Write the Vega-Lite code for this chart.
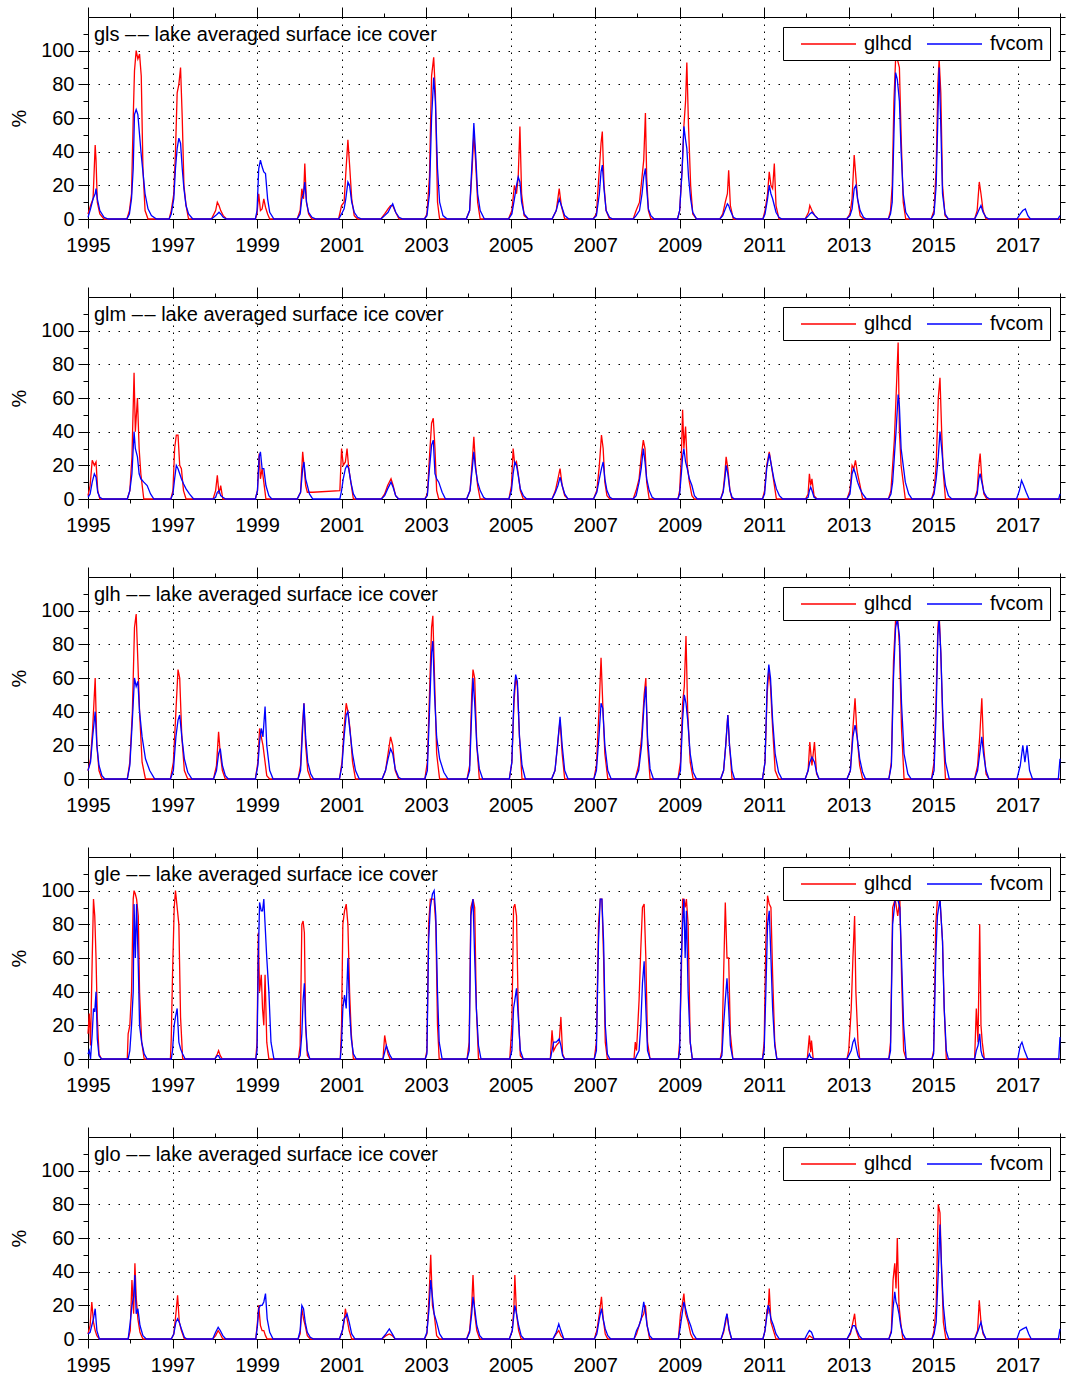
{
"$schema":"https://vega.github.io/schema/vega-lite/v6.json",
"background":"white",
"padding":{"left":9,"top":6,"right":4,"bottom":0},
"autosize":{"type":"pad"},
"bounds":"flush",
"spacing":78,
"config":{
 "font":"Liberation Sans",
 "view":{"stroke":null},
 "axis":{"domainColor":"black","domainWidth":1,"tickColor":"black","tickWidth":1,"labelColor":"black","labelFont":"Liberation Sans","labelFontSize":20,"titleColor":"black","titleFont":"Liberation Sans","titleFontSize":20,"titleFontWeight":"normal","gridColor":"black","gridWidth":1},
 "axisX":{"gridDash":[1.5,5.5]},
 "axisY":{"gridDash":[1.5,8.5]},
 "legend":{"orient":"top-right","direction":"horizontal","offset":10,"padding":6,"strokeColor":"black","fillColor":"white","symbolType":"M0.1,0H5.6","symbolSize":400,"symbolStrokeWidth":1.3,"symbolFillColor":"transparent","labelFontSize":20,"labelFont":"Liberation Sans","labelColor":"black","labelOffset":53,"columnPadding":3,"labelLimit":300}
},
"resolve":{"scale":{"color":"independent","x":"independent","y":"independent"},"legend":{"color":"independent"}},
"datasets":{
"gls":[
{"t":1995.00,"r":3,"b":1},{"t":1995.06,"r":8,"b":6},{"t":1995.12,"r":12,"b":12},{"t":1995.17,"r":44,"b":15},{"t":1995.19,"r":35,"b":18},{"t":1995.22,"r":10,"b":12},{"t":1995.28,"r":3,"b":5},{"t":1995.38,"r":0,"b":1},{"t":1995.48,"r":0,"b":0},
{"t":1995.92,"r":0,"b":0},{"t":1995.98,"r":5,"b":3},{"t":1996.03,"r":15,"b":12},{"t":1996.07,"r":60,"b":30},{"t":1996.10,"r":88,"b":62},{"t":1996.14,"r":100,"b":65},{"t":1996.18,"r":95,"b":62},{"t":1996.22,"r":98,"b":50},{"t":1996.26,"r":85,"b":38},{"t":1996.30,"r":30,"b":28},{"t":1996.35,"r":5,"b":15},{"t":1996.42,"r":0,"b":6},{"t":1996.50,"r":0,"b":2},{"t":1996.62,"r":0,"b":0},
{"t":1996.92,"r":0,"b":0},{"t":1996.97,"r":5,"b":3},{"t":1997.03,"r":15,"b":12},{"t":1997.07,"r":40,"b":30},{"t":1997.11,"r":75,"b":42},{"t":1997.15,"r":80,"b":48},{"t":1997.19,"r":90,"b":45},{"t":1997.23,"r":60,"b":30},{"t":1997.27,"r":20,"b":18},{"t":1997.32,"r":8,"b":8},{"t":1997.38,"r":0,"b":3},{"t":1997.48,"r":0,"b":0},
{"t":1997.92,"r":0,"b":0},{"t":1998.02,"r":5,"b":2},{"t":1998.06,"r":10,"b":3},{"t":1998.10,"r":8,"b":4},{"t":1998.14,"r":5,"b":3},{"t":1998.20,"r":2,"b":1},{"t":1998.28,"r":0,"b":0},
{"t":1998.96,"r":0,"b":0},{"t":1999.00,"r":3,"b":5},{"t":1999.04,"r":15,"b":30},{"t":1999.08,"r":5,"b":35},{"t":1999.12,"r":6,"b":31},{"t":1999.16,"r":12,"b":28},{"t":1999.20,"r":7,"b":27},{"t":1999.25,"r":3,"b":12},{"t":1999.30,"r":0,"b":4},{"t":1999.40,"r":0,"b":0},
{"t":1999.95,"r":0,"b":0},{"t":2000.02,"r":5,"b":3},{"t":2000.06,"r":18,"b":12},{"t":2000.10,"r":12,"b":15},{"t":2000.13,"r":33,"b":22},{"t":2000.17,"r":10,"b":10},{"t":2000.22,"r":3,"b":4},{"t":2000.30,"r":0,"b":1},{"t":2000.40,"r":0,"b":0},
{"t":2000.93,"r":0,"b":0},{"t":2001.00,"r":8,"b":3},{"t":2001.06,"r":10,"b":6},{"t":2001.10,"r":27,"b":12},{"t":2001.15,"r":47,"b":22},{"t":2001.19,"r":32,"b":20},{"t":2001.24,"r":12,"b":10},{"t":2001.30,"r":2,"b":4},{"t":2001.38,"r":0,"b":1},{"t":2001.48,"r":0,"b":0},
{"t":2001.93,"r":0,"b":0},{"t":2002.02,"r":3,"b":2},{"t":2002.10,"r":6,"b":4},{"t":2002.16,"r":8,"b":7},{"t":2002.21,"r":8,"b":9},{"t":2002.28,"r":4,"b":4},{"t":2002.36,"r":0,"b":1},{"t":2002.45,"r":0,"b":0},
{"t":2002.96,"r":0,"b":0},{"t":2003.02,"r":3,"b":2},{"t":2003.08,"r":25,"b":15},{"t":2003.13,"r":85,"b":60},{"t":2003.18,"r":96,"b":84},{"t":2003.22,"r":75,"b":70},{"t":2003.27,"r":10,"b":30},{"t":2003.32,"r":0,"b":10},{"t":2003.40,"r":0,"b":2},{"t":2003.50,"r":0,"b":0},
{"t":2003.95,"r":0,"b":0},{"t":2004.03,"r":5,"b":5},{"t":2004.09,"r":30,"b":35},{"t":2004.13,"r":50,"b":57},{"t":2004.17,"r":35,"b":40},{"t":2004.22,"r":10,"b":15},{"t":2004.28,"r":0,"b":5},{"t":2004.38,"r":0,"b":0},
{"t":2004.95,"r":0,"b":0},{"t":2005.03,"r":5,"b":3},{"t":2005.09,"r":20,"b":12},{"t":2005.14,"r":15,"b":20},{"t":2005.18,"r":25,"b":25},{"t":2005.22,"r":55,"b":22},{"t":2005.26,"r":15,"b":10},{"t":2005.32,"r":2,"b":3},{"t":2005.42,"r":0,"b":0},
{"t":2005.98,"r":0,"b":0},{"t":2006.08,"r":5,"b":5},{"t":2006.15,"r":18,"b":12},{"t":2006.20,"r":8,"b":8},{"t":2006.28,"r":0,"b":2},{"t":2006.38,"r":0,"b":0},
{"t":2006.95,"r":0,"b":0},{"t":2007.03,"r":3,"b":2},{"t":2007.10,"r":30,"b":15},{"t":2007.14,"r":45,"b":28},{"t":2007.17,"r":52,"b":32},{"t":2007.21,"r":20,"b":18},{"t":2007.26,"r":5,"b":5},{"t":2007.34,"r":0,"b":1},{"t":2007.42,"r":0,"b":0},
{"t":2007.90,"r":0,"b":0},{"t":2007.97,"r":5,"b":2},{"t":2008.05,"r":10,"b":5},{"t":2008.11,"r":25,"b":15},{"t":2008.15,"r":35,"b":25},{"t":2008.19,"r":63,"b":30},{"t":2008.22,"r":25,"b":18},{"t":2008.26,"r":5,"b":6},{"t":2008.32,"r":0,"b":2},{"t":2008.40,"r":0,"b":0},
{"t":2008.95,"r":0,"b":0},{"t":2009.00,"r":5,"b":5},{"t":2009.06,"r":30,"b":30},{"t":2009.10,"r":55,"b":55},{"t":2009.14,"r":70,"b":47},{"t":2009.17,"r":93,"b":42},{"t":2009.21,"r":55,"b":25},{"t":2009.26,"r":20,"b":12},{"t":2009.31,"r":3,"b":4},{"t":2009.40,"r":0,"b":0},
{"t":2009.95,"r":0,"b":0},{"t":2010.02,"r":3,"b":2},{"t":2010.08,"r":10,"b":6},{"t":2010.13,"r":15,"b":9},{"t":2010.16,"r":29,"b":8},{"t":2010.20,"r":8,"b":5},{"t":2010.27,"r":0,"b":1},{"t":2010.35,"r":0,"b":0},
{"t":2010.97,"r":0,"b":0},{"t":2011.02,"r":5,"b":3},{"t":2011.08,"r":15,"b":12},{"t":2011.12,"r":28,"b":20},{"t":2011.16,"r":20,"b":15},{"t":2011.20,"r":18,"b":12},{"t":2011.24,"r":33,"b":8},{"t":2011.28,"r":8,"b":4},{"t":2011.35,"r":0,"b":1},{"t":2011.42,"r":0,"b":0},
{"t":2011.97,"r":0,"b":0},{"t":2012.05,"r":4,"b":2},{"t":2012.08,"r":8,"b":3},{"t":2012.13,"r":5,"b":4},{"t":2012.20,"r":2,"b":2},{"t":2012.28,"r":0,"b":0},
{"t":2012.95,"r":0,"b":0},{"t":2013.03,"r":3,"b":2},{"t":2013.08,"r":12,"b":6},{"t":2013.13,"r":38,"b":18},{"t":2013.17,"r":25,"b":20},{"t":2013.21,"r":12,"b":12},{"t":2013.27,"r":2,"b":5},{"t":2013.35,"r":0,"b":1},{"t":2013.42,"r":0,"b":0},
{"t":2013.94,"r":0,"b":0},{"t":2013.99,"r":5,"b":3},{"t":2014.03,"r":20,"b":10},{"t":2014.07,"r":70,"b":50},{"t":2014.11,"r":95,"b":87},{"t":2014.15,"r":95,"b":83},{"t":2014.20,"r":90,"b":70},{"t":2014.24,"r":50,"b":40},{"t":2014.29,"r":10,"b":15},{"t":2014.35,"r":0,"b":4},{"t":2014.45,"r":0,"b":0},
{"t":2014.95,"r":0,"b":0},{"t":2015.02,"r":5,"b":3},{"t":2015.07,"r":30,"b":20},{"t":2015.11,"r":80,"b":60},{"t":2015.14,"r":95,"b":90},{"t":2015.18,"r":75,"b":55},{"t":2015.22,"r":20,"b":15},{"t":2015.28,"r":2,"b":3},{"t":2015.36,"r":0,"b":0},
{"t":2015.98,"r":0,"b":0},{"t":2016.04,"r":5,"b":3},{"t":2016.09,"r":22,"b":6},{"t":2016.13,"r":15,"b":8},{"t":2016.18,"r":5,"b":4},{"t":2016.25,"r":0,"b":1},{"t":2016.32,"r":0,"b":0},
{"t":2016.98,"r":0,"b":0},{"t":2017.06,"r":0,"b":3},{"t":2017.12,"r":0,"b":5},{"t":2017.18,"r":0,"b":6},{"t":2017.24,"r":0,"b":2},{"t":2017.30,"r":0,"b":0},
{"t":2017.95,"r":0,"b":0},{"t":2018.00,"r":0,"b":2}
],
"glm":[
{"t":1995.00,"r":2,"b":1},{"t":1995.05,"r":8,"b":3},{"t":1995.10,"r":23,"b":10},{"t":1995.15,"r":20,"b":15},{"t":1995.19,"r":22,"b":13},{"t":1995.23,"r":5,"b":4},{"t":1995.28,"r":0,"b":1},{"t":1995.35,"r":0,"b":0},
{"t":1995.93,"r":0,"b":0},{"t":1995.99,"r":5,"b":5},{"t":1996.04,"r":25,"b":15},{"t":1996.09,"r":75,"b":40},{"t":1996.12,"r":40,"b":30},{"t":1996.17,"r":60,"b":25},{"t":1996.21,"r":30,"b":15},{"t":1996.25,"r":15,"b":12},{"t":1996.32,"r":0,"b":10},{"t":1996.40,"r":0,"b":8},{"t":1996.48,"r":0,"b":3},{"t":1996.56,"r":0,"b":0},
{"t":1996.96,"r":0,"b":0},{"t":1997.01,"r":5,"b":3},{"t":1997.05,"r":30,"b":12},{"t":1997.09,"r":38,"b":20},{"t":1997.13,"r":38,"b":18},{"t":1997.17,"r":20,"b":15},{"t":1997.21,"r":18,"b":12},{"t":1997.26,"r":5,"b":9},{"t":1997.32,"r":0,"b":6},{"t":1997.40,"r":0,"b":3},{"t":1997.50,"r":0,"b":0},
{"t":1997.96,"r":0,"b":0},{"t":1998.02,"r":5,"b":1},{"t":1998.06,"r":14,"b":4},{"t":1998.10,"r":3,"b":5},{"t":1998.14,"r":8,"b":2},{"t":1998.19,"r":0,"b":1},{"t":1998.26,"r":0,"b":0},
{"t":1998.96,"r":0,"b":0},{"t":1999.01,"r":5,"b":5},{"t":1999.05,"r":27,"b":25},{"t":1999.08,"r":12,"b":28},{"t":1999.12,"r":18,"b":18},{"t":1999.16,"r":10,"b":18},{"t":1999.21,"r":0,"b":8},{"t":1999.28,"r":0,"b":2},{"t":1999.35,"r":0,"b":0},
{"t":1999.95,"r":0,"b":0},{"t":2000.03,"r":4,"b":4},{"t":2000.08,"r":28,"b":18},{"t":2000.11,"r":20,"b":22},{"t":2000.15,"r":8,"b":12},{"t":2000.19,"r":4,"b":8},{"t":2000.24,"r":4,"b":3},{"t":2000.32,"r":4,"b":0},{"t":2000.96,"r":5,"b":0},
{"t":2001.00,"r":30,"b":5},{"t":2001.04,"r":20,"b":12},{"t":2001.09,"r":22,"b":18},{"t":2001.13,"r":30,"b":20},{"t":2001.17,"r":18,"b":18},{"t":2001.22,"r":10,"b":10},{"t":2001.28,"r":0,"b":3},{"t":2001.35,"r":0,"b":0},
{"t":2001.94,"r":0,"b":0},{"t":2002.02,"r":3,"b":2},{"t":2002.09,"r":8,"b":6},{"t":2002.17,"r":12,"b":10},{"t":2002.22,"r":8,"b":7},{"t":2002.28,"r":2,"b":2},{"t":2002.35,"r":0,"b":0},
{"t":2002.97,"r":0,"b":0},{"t":2003.03,"r":3,"b":2},{"t":2003.08,"r":25,"b":18},{"t":2003.13,"r":45,"b":32},{"t":2003.17,"r":48,"b":35},{"t":2003.21,"r":30,"b":15},{"t":2003.25,"r":5,"b":12},{"t":2003.30,"r":0,"b":10},{"t":2003.38,"r":0,"b":4},{"t":2003.46,"r":0,"b":0},
{"t":2003.96,"r":0,"b":0},{"t":2004.04,"r":5,"b":5},{"t":2004.10,"r":25,"b":20},{"t":2004.13,"r":37,"b":28},{"t":2004.17,"r":20,"b":18},{"t":2004.22,"r":8,"b":10},{"t":2004.28,"r":0,"b":5},{"t":2004.36,"r":0,"b":1},{"t":2004.42,"r":0,"b":0},
{"t":2004.96,"r":0,"b":0},{"t":2005.02,"r":8,"b":5},{"t":2005.06,"r":30,"b":15},{"t":2005.10,"r":20,"b":22},{"t":2005.14,"r":22,"b":20},{"t":2005.18,"r":15,"b":14},{"t":2005.23,"r":5,"b":6},{"t":2005.30,"r":0,"b":2},{"t":2005.38,"r":0,"b":0},
{"t":2005.98,"r":0,"b":0},{"t":2006.06,"r":5,"b":4},{"t":2006.12,"r":12,"b":8},{"t":2006.17,"r":18,"b":13},{"t":2006.22,"r":8,"b":8},{"t":2006.28,"r":2,"b":3},{"t":2006.36,"r":0,"b":0},
{"t":2006.96,"r":0,"b":0},{"t":2007.04,"r":5,"b":4},{"t":2007.10,"r":20,"b":12},{"t":2007.15,"r":38,"b":18},{"t":2007.19,"r":30,"b":22},{"t":2007.23,"r":10,"b":12},{"t":2007.28,"r":2,"b":5},{"t":2007.35,"r":0,"b":1},{"t":2007.42,"r":0,"b":0},
{"t":2007.90,"r":0,"b":0},{"t":2007.97,"r":5,"b":2},{"t":2008.04,"r":12,"b":10},{"t":2008.09,"r":25,"b":18},{"t":2008.14,"r":35,"b":30},{"t":2008.18,"r":30,"b":22},{"t":2008.22,"r":10,"b":12},{"t":2008.28,"r":0,"b":5},{"t":2008.35,"r":0,"b":1},{"t":2008.42,"r":0,"b":0},
{"t":2008.96,"r":0,"b":0},{"t":2009.00,"r":5,"b":3},{"t":2009.04,"r":25,"b":15},{"t":2009.07,"r":53,"b":25},{"t":2009.10,"r":30,"b":30},{"t":2009.14,"r":43,"b":22},{"t":2009.18,"r":20,"b":18},{"t":2009.23,"r":10,"b":12},{"t":2009.29,"r":2,"b":8},{"t":2009.35,"r":0,"b":2},{"t":2009.42,"r":0,"b":0},
{"t":2009.97,"r":0,"b":0},{"t":2010.03,"r":5,"b":4},{"t":2010.07,"r":15,"b":12},{"t":2010.10,"r":25,"b":20},{"t":2010.14,"r":18,"b":15},{"t":2010.19,"r":5,"b":5},{"t":2010.24,"r":0,"b":1},{"t":2010.30,"r":0,"b":0},
{"t":2010.96,"r":0,"b":0},{"t":2011.01,"r":5,"b":3},{"t":2011.06,"r":20,"b":18},{"t":2011.12,"r":28,"b":27},{"t":2011.17,"r":20,"b":20},{"t":2011.23,"r":10,"b":12},{"t":2011.29,"r":0,"b":6},{"t":2011.36,"r":0,"b":2},{"t":2011.44,"r":0,"b":0},
{"t":2011.98,"r":0,"b":0},{"t":2012.04,"r":3,"b":1},{"t":2012.07,"r":15,"b":5},{"t":2012.10,"r":8,"b":7},{"t":2012.13,"r":12,"b":5},{"t":2012.18,"r":2,"b":1},{"t":2012.25,"r":0,"b":0},
{"t":2012.96,"r":0,"b":0},{"t":2013.03,"r":5,"b":3},{"t":2013.08,"r":20,"b":15},{"t":2013.12,"r":18,"b":18},{"t":2013.16,"r":23,"b":15},{"t":2013.21,"r":15,"b":10},{"t":2013.27,"r":8,"b":6},{"t":2013.33,"r":0,"b":3},{"t":2013.42,"r":0,"b":0},
{"t":2013.94,"r":0,"b":0},{"t":2014.00,"r":5,"b":3},{"t":2014.04,"r":20,"b":10},{"t":2014.08,"r":35,"b":25},{"t":2014.12,"r":60,"b":40},{"t":2014.17,"r":93,"b":62},{"t":2014.20,"r":40,"b":55},{"t":2014.24,"r":20,"b":30},{"t":2014.29,"r":10,"b":20},{"t":2014.34,"r":0,"b":10},{"t":2014.42,"r":0,"b":3},{"t":2014.50,"r":0,"b":0},
{"t":2014.96,"r":0,"b":0},{"t":2015.02,"r":5,"b":3},{"t":2015.07,"r":20,"b":12},{"t":2015.12,"r":60,"b":25},{"t":2015.16,"r":72,"b":40},{"t":2015.20,"r":40,"b":30},{"t":2015.24,"r":15,"b":18},{"t":2015.29,"r":0,"b":8},{"t":2015.36,"r":0,"b":2},{"t":2015.44,"r":0,"b":0},
{"t":2015.98,"r":0,"b":0},{"t":2016.04,"r":5,"b":3},{"t":2016.08,"r":20,"b":12},{"t":2016.11,"r":27,"b":15},{"t":2016.15,"r":12,"b":10},{"t":2016.20,"r":3,"b":4},{"t":2016.27,"r":0,"b":1},{"t":2016.34,"r":0,"b":0},
{"t":2016.97,"r":0,"b":0},{"t":2017.04,"r":0,"b":5},{"t":2017.09,"r":0,"b":11},{"t":2017.14,"r":0,"b":8},{"t":2017.20,"r":0,"b":4},{"t":2017.27,"r":0,"b":0},
{"t":2017.97,"r":0,"b":0},{"t":2018.00,"r":0,"b":3}
],
"glh":[
{"t":1995.00,"r":5,"b":5},{"t":1995.06,"r":12,"b":10},{"t":1995.11,"r":30,"b":25},{"t":1995.17,"r":60,"b":40},{"t":1995.21,"r":20,"b":20},{"t":1995.26,"r":5,"b":8},{"t":1995.33,"r":0,"b":2},{"t":1995.40,"r":0,"b":0},
{"t":1995.93,"r":0,"b":0},{"t":1995.99,"r":10,"b":8},{"t":1996.05,"r":40,"b":35},{"t":1996.10,"r":90,"b":60},{"t":1996.14,"r":98,"b":55},{"t":1996.18,"r":70,"b":58},{"t":1996.22,"r":40,"b":40},{"t":1996.28,"r":10,"b":25},{"t":1996.36,"r":0,"b":12},{"t":1996.46,"r":0,"b":5},{"t":1996.58,"r":0,"b":0},
{"t":1996.95,"r":0,"b":0},{"t":1997.02,"r":10,"b":5},{"t":1997.08,"r":40,"b":25},{"t":1997.13,"r":65,"b":35},{"t":1997.17,"r":60,"b":38},{"t":1997.22,"r":25,"b":25},{"t":1997.28,"r":5,"b":12},{"t":1997.36,"r":0,"b":4},{"t":1997.46,"r":0,"b":0},
{"t":1997.97,"r":0,"b":0},{"t":1998.04,"r":8,"b":5},{"t":1998.09,"r":28,"b":15},{"t":1998.13,"r":15,"b":18},{"t":1998.18,"r":5,"b":8},{"t":1998.25,"r":0,"b":2},{"t":1998.32,"r":0,"b":0},
{"t":1998.96,"r":0,"b":0},{"t":1999.02,"r":10,"b":8},{"t":1999.06,"r":30,"b":22},{"t":1999.10,"r":25,"b":30},{"t":1999.14,"r":20,"b":25},{"t":1999.19,"r":10,"b":43},{"t":1999.23,"r":2,"b":20},{"t":1999.30,"r":0,"b":5},{"t":1999.38,"r":0,"b":0},
{"t":1999.97,"r":0,"b":0},{"t":2000.03,"r":8,"b":5},{"t":2000.07,"r":30,"b":25},{"t":2000.11,"r":45,"b":45},{"t":2000.15,"r":20,"b":25},{"t":2000.20,"r":5,"b":10},{"t":2000.27,"r":0,"b":3},{"t":2000.34,"r":0,"b":0},
{"t":2000.95,"r":0,"b":0},{"t":2001.01,"r":10,"b":8},{"t":2001.06,"r":30,"b":25},{"t":2001.11,"r":45,"b":38},{"t":2001.15,"r":40,"b":40},{"t":2001.20,"r":30,"b":28},{"t":2001.26,"r":10,"b":15},{"t":2001.33,"r":0,"b":5},{"t":2001.42,"r":0,"b":0},
{"t":2001.96,"r":0,"b":0},{"t":2002.04,"r":5,"b":5},{"t":2002.10,"r":15,"b":12},{"t":2002.16,"r":25,"b":18},{"t":2002.21,"r":20,"b":15},{"t":2002.27,"r":5,"b":6},{"t":2002.35,"r":0,"b":1},{"t":2002.42,"r":0,"b":0},
{"t":2002.97,"r":0,"b":0},{"t":2003.03,"r":10,"b":5},{"t":2003.08,"r":50,"b":40},{"t":2003.13,"r":90,"b":75},{"t":2003.16,"r":97,"b":82},{"t":2003.20,"r":60,"b":50},{"t":2003.25,"r":15,"b":25},{"t":2003.32,"r":0,"b":12},{"t":2003.42,"r":0,"b":4},{"t":2003.52,"r":0,"b":0},
{"t":2003.97,"r":0,"b":0},{"t":2004.03,"r":8,"b":5},{"t":2004.08,"r":50,"b":40},{"t":2004.11,"r":65,"b":60},{"t":2004.15,"r":60,"b":45},{"t":2004.20,"r":20,"b":20},{"t":2004.26,"r":0,"b":6},{"t":2004.34,"r":0,"b":0},
{"t":2004.97,"r":0,"b":0},{"t":2005.03,"r":10,"b":10},{"t":2005.08,"r":45,"b":50},{"t":2005.12,"r":60,"b":62},{"t":2005.16,"r":55,"b":58},{"t":2005.21,"r":25,"b":25},{"t":2005.27,"r":0,"b":8},{"t":2005.35,"r":0,"b":0},
{"t":2005.97,"r":0,"b":0},{"t":2006.05,"r":5,"b":5},{"t":2006.11,"r":20,"b":20},{"t":2006.17,"r":35,"b":37},{"t":2006.22,"r":15,"b":20},{"t":2006.28,"r":0,"b":5},{"t":2006.36,"r":0,"b":0},
{"t":2006.97,"r":0,"b":0},{"t":2007.03,"r":8,"b":5},{"t":2007.09,"r":40,"b":25},{"t":2007.14,"r":72,"b":45},{"t":2007.18,"r":45,"b":42},{"t":2007.23,"r":15,"b":20},{"t":2007.30,"r":0,"b":5},{"t":2007.38,"r":0,"b":0},
{"t":2007.95,"r":0,"b":0},{"t":2008.03,"r":8,"b":5},{"t":2008.10,"r":25,"b":20},{"t":2008.16,"r":50,"b":45},{"t":2008.20,"r":60,"b":55},{"t":2008.24,"r":20,"b":25},{"t":2008.30,"r":0,"b":6},{"t":2008.38,"r":0,"b":0},
{"t":2008.96,"r":0,"b":0},{"t":2009.02,"r":10,"b":5},{"t":2009.07,"r":45,"b":35},{"t":2009.11,"r":55,"b":50},{"t":2009.15,"r":85,"b":45},{"t":2009.19,"r":40,"b":35},{"t":2009.25,"r":10,"b":15},{"t":2009.32,"r":0,"b":4},{"t":2009.40,"r":0,"b":0},
{"t":2009.97,"r":0,"b":0},{"t":2010.04,"r":5,"b":5},{"t":2010.09,"r":20,"b":20},{"t":2010.14,"r":38,"b":38},{"t":2010.18,"r":20,"b":20},{"t":2010.24,"r":0,"b":5},{"t":2010.30,"r":0,"b":0},
{"t":2010.96,"r":0,"b":0},{"t":2011.02,"r":10,"b":10},{"t":2011.07,"r":50,"b":55},{"t":2011.11,"r":65,"b":68},{"t":2011.15,"r":55,"b":60},{"t":2011.20,"r":30,"b":35},{"t":2011.26,"r":5,"b":15},{"t":2011.34,"r":0,"b":4},{"t":2011.42,"r":0,"b":0},
{"t":2011.97,"r":0,"b":0},{"t":2012.04,"r":5,"b":5},{"t":2012.08,"r":22,"b":10},{"t":2012.13,"r":8,"b":13},{"t":2012.19,"r":22,"b":10},{"t":2012.24,"r":3,"b":4},{"t":2012.30,"r":0,"b":0},
{"t":2012.96,"r":0,"b":0},{"t":2013.04,"r":5,"b":5},{"t":2013.10,"r":30,"b":25},{"t":2013.15,"r":48,"b":32},{"t":2013.20,"r":25,"b":25},{"t":2013.26,"r":8,"b":12},{"t":2013.33,"r":0,"b":4},{"t":2013.40,"r":0,"b":0},
{"t":2013.95,"r":0,"b":0},{"t":2014.01,"r":10,"b":8},{"t":2014.06,"r":70,"b":60},{"t":2014.11,"r":95,"b":90},{"t":2014.15,"r":98,"b":95},{"t":2014.20,"r":80,"b":85},{"t":2014.25,"r":30,"b":45},{"t":2014.31,"r":0,"b":15},{"t":2014.40,"r":0,"b":3},{"t":2014.48,"r":0,"b":0},
{"t":2014.96,"r":0,"b":0},{"t":2015.02,"r":10,"b":5},{"t":2015.07,"r":50,"b":40},{"t":2015.11,"r":90,"b":85},{"t":2015.14,"r":98,"b":95},{"t":2015.18,"r":75,"b":75},{"t":2015.23,"r":30,"b":35},{"t":2015.29,"r":0,"b":10},{"t":2015.38,"r":0,"b":0},
{"t":2015.98,"r":0,"b":0},{"t":2016.05,"r":8,"b":5},{"t":2016.10,"r":25,"b":15},{"t":2016.15,"r":48,"b":25},{"t":2016.19,"r":20,"b":15},{"t":2016.25,"r":3,"b":5},{"t":2016.32,"r":0,"b":0},
{"t":2016.98,"r":0,"b":0},{"t":2017.06,"r":0,"b":8},{"t":2017.12,"r":0,"b":20},{"t":2017.17,"r":0,"b":10},{"t":2017.22,"r":0,"b":20},{"t":2017.28,"r":0,"b":5},{"t":2017.35,"r":0,"b":0},
{"t":2017.96,"r":0,"b":0},{"t":2018.00,"r":0,"b":12}
],
"gle":[
{"t":1995.00,"r":15,"b":3},{"t":1995.03,"r":27,"b":5},{"t":1995.06,"r":8,"b":0},{"t":1995.10,"r":60,"b":15},{"t":1995.13,"r":95,"b":30},{"t":1995.16,"r":85,"b":28},{"t":1995.19,"r":60,"b":40},{"t":1995.22,"r":25,"b":12},{"t":1995.26,"r":3,"b":2},{"t":1995.32,"r":0,"b":0},
{"t":1995.93,"r":0,"b":0},{"t":1995.95,"r":15,"b":0},{"t":1995.99,"r":20,"b":5},{"t":1996.03,"r":40,"b":20},{"t":1996.07,"r":95,"b":40},{"t":1996.09,"r":100,"b":92},{"t":1996.12,"r":98,"b":60},{"t":1996.15,"r":95,"b":92},{"t":1996.19,"r":85,"b":55},{"t":1996.22,"r":40,"b":20},{"t":1996.27,"r":10,"b":10},{"t":1996.33,"r":0,"b":3},{"t":1996.40,"r":0,"b":0},
{"t":1996.95,"r":0,"b":0},{"t":1996.97,"r":12,"b":0},{"t":1997.00,"r":50,"b":5},{"t":1997.04,"r":90,"b":20},{"t":1997.07,"r":100,"b":25},{"t":1997.11,"r":90,"b":30},{"t":1997.15,"r":80,"b":10},{"t":1997.19,"r":25,"b":6},{"t":1997.24,"r":0,"b":3},{"t":1997.30,"r":0,"b":0},
{"t":1998.00,"r":0,"b":0},{"t":1998.06,"r":3,"b":2},{"t":1998.09,"r":5,"b":2},{"t":1998.13,"r":2,"b":0},{"t":1998.18,"r":0,"b":0},
{"t":1998.97,"r":0,"b":0},{"t":1999.00,"r":10,"b":5},{"t":1999.03,"r":75,"b":60},{"t":1999.06,"r":40,"b":93},{"t":1999.10,"r":50,"b":88},{"t":1999.13,"r":30,"b":88},{"t":1999.16,"r":20,"b":95},{"t":1999.19,"r":50,"b":80},{"t":1999.23,"r":10,"b":60},{"t":1999.28,"r":0,"b":40},{"t":1999.33,"r":0,"b":10},{"t":1999.40,"r":0,"b":0},
{"t":1999.98,"r":0,"b":0},{"t":2000.02,"r":8,"b":2},{"t":2000.06,"r":80,"b":15},{"t":2000.09,"r":82,"b":35},{"t":2000.12,"r":75,"b":45},{"t":2000.15,"r":20,"b":20},{"t":2000.19,"r":2,"b":5},{"t":2000.25,"r":0,"b":0},
{"t":2000.97,"r":0,"b":0},{"t":2001.00,"r":20,"b":10},{"t":2001.03,"r":80,"b":30},{"t":2001.07,"r":88,"b":38},{"t":2001.11,"r":92,"b":30},{"t":2001.15,"r":80,"b":60},{"t":2001.19,"r":40,"b":28},{"t":2001.23,"r":15,"b":12},{"t":2001.28,"r":0,"b":3},{"t":2001.35,"r":0,"b":0},
{"t":2001.98,"r":0,"b":0},{"t":2002.02,"r":14,"b":4},{"t":2002.06,"r":8,"b":8},{"t":2002.10,"r":3,"b":5},{"t":2002.15,"r":0,"b":2},{"t":2002.20,"r":0,"b":0},
{"t":2002.98,"r":0,"b":0},{"t":2003.02,"r":5,"b":3},{"t":2003.06,"r":80,"b":70},{"t":2003.10,"r":95,"b":90},{"t":2003.15,"r":95,"b":98},{"t":2003.19,"r":95,"b":100},{"t":2003.23,"r":80,"b":85},{"t":2003.27,"r":20,"b":40},{"t":2003.31,"r":0,"b":10},{"t":2003.38,"r":0,"b":0},
{"t":2003.97,"r":0,"b":0},{"t":2004.02,"r":10,"b":5},{"t":2004.06,"r":90,"b":85},{"t":2004.11,"r":95,"b":95},{"t":2004.15,"r":90,"b":60},{"t":2004.19,"r":30,"b":30},{"t":2004.24,"r":0,"b":8},{"t":2004.30,"r":0,"b":0},
{"t":2004.98,"r":0,"b":0},{"t":2005.03,"r":20,"b":5},{"t":2005.07,"r":90,"b":30},{"t":2005.10,"r":92,"b":35},{"t":2005.14,"r":85,"b":42},{"t":2005.18,"r":30,"b":25},{"t":2005.23,"r":2,"b":5},{"t":2005.30,"r":0,"b":0},
{"t":2005.94,"r":0,"b":0},{"t":2005.98,"r":17,"b":5},{"t":2006.02,"r":5,"b":10},{"t":2006.08,"r":8,"b":10},{"t":2006.15,"r":10,"b":12},{"t":2006.19,"r":25,"b":8},{"t":2006.23,"r":3,"b":2},{"t":2006.28,"r":0,"b":0},
{"t":2006.98,"r":0,"b":0},{"t":2007.03,"r":10,"b":5},{"t":2007.08,"r":80,"b":70},{"t":2007.12,"r":95,"b":95},{"t":2007.16,"r":95,"b":95},{"t":2007.20,"r":60,"b":70},{"t":2007.24,"r":10,"b":20},{"t":2007.29,"r":0,"b":3},{"t":2007.35,"r":0,"b":0},
{"t":2007.92,"r":0,"b":0},{"t":2007.95,"r":10,"b":0},{"t":2007.98,"r":5,"b":2},{"t":2008.04,"r":35,"b":5},{"t":2008.08,"r":65,"b":20},{"t":2008.12,"r":90,"b":45},{"t":2008.16,"r":92,"b":58},{"t":2008.20,"r":60,"b":30},{"t":2008.24,"r":10,"b":5},{"t":2008.30,"r":0,"b":0},
{"t":2008.97,"r":0,"b":0},{"t":2009.00,"r":10,"b":5},{"t":2009.04,"r":50,"b":60},{"t":2009.07,"r":95,"b":80},{"t":2009.10,"r":95,"b":95},{"t":2009.13,"r":90,"b":60},{"t":2009.16,"r":95,"b":88},{"t":2009.20,"r":80,"b":40},{"t":2009.25,"r":10,"b":10},{"t":2009.30,"r":0,"b":0},
{"t":2009.96,"r":0,"b":0},{"t":2010.00,"r":5,"b":2},{"t":2010.04,"r":50,"b":20},{"t":2010.08,"r":93,"b":35},{"t":2010.12,"r":60,"b":48},{"t":2010.16,"r":60,"b":30},{"t":2010.20,"r":15,"b":8},{"t":2010.26,"r":0,"b":0},
{"t":2010.96,"r":0,"b":0},{"t":2011.00,"r":10,"b":5},{"t":2011.04,"r":70,"b":40},{"t":2011.08,"r":97,"b":80},{"t":2011.12,"r":92,"b":88},{"t":2011.16,"r":90,"b":60},{"t":2011.20,"r":50,"b":30},{"t":2011.25,"r":10,"b":8},{"t":2011.30,"r":0,"b":0},
{"t":2012.02,"r":0,"b":0},{"t":2012.07,"r":14,"b":3},{"t":2012.10,"r":4,"b":1},{"t":2012.12,"r":11,"b":1},{"t":2012.16,"r":0,"b":0},
{"t":2012.96,"r":0,"b":0},{"t":2013.00,"r":5,"b":2},{"t":2013.06,"r":30,"b":5},{"t":2013.10,"r":60,"b":10},{"t":2013.14,"r":85,"b":12},{"t":2013.17,"r":40,"b":8},{"t":2013.22,"r":10,"b":2},{"t":2013.26,"r":0,"b":0},
{"t":2013.95,"r":0,"b":0},{"t":2013.99,"r":10,"b":5},{"t":2014.04,"r":90,"b":80},{"t":2014.10,"r":95,"b":95},{"t":2014.16,"r":85,"b":95},{"t":2014.21,"r":95,"b":90},{"t":2014.25,"r":50,"b":60},{"t":2014.30,"r":5,"b":20},{"t":2014.36,"r":0,"b":0},
{"t":2014.97,"r":0,"b":0},{"t":2015.01,"r":5,"b":3},{"t":2015.06,"r":80,"b":60},{"t":2015.10,"r":95,"b":85},{"t":2015.16,"r":95,"b":95},{"t":2015.22,"r":70,"b":70},{"t":2015.26,"r":30,"b":30},{"t":2015.31,"r":0,"b":5},{"t":2015.36,"r":0,"b":0},
{"t":2015.98,"r":0,"b":0},{"t":2016.02,"r":30,"b":5},{"t":2016.06,"r":10,"b":8},{"t":2016.10,"r":80,"b":15},{"t":2016.13,"r":20,"b":5},{"t":2016.16,"r":10,"b":2},{"t":2016.21,"r":0,"b":0},
{"t":2017.00,"r":0,"b":0},{"t":2017.06,"r":0,"b":8},{"t":2017.10,"r":0,"b":10},{"t":2017.16,"r":0,"b":5},{"t":2017.24,"r":0,"b":0},
{"t":2017.97,"r":0,"b":0},{"t":2018.00,"r":0,"b":13}
],
"glo":[
{"t":1995.00,"r":3,"b":3},{"t":1995.05,"r":8,"b":4},{"t":1995.09,"r":22,"b":8},{"t":1995.13,"r":10,"b":12},{"t":1995.17,"r":5,"b":18},{"t":1995.21,"r":2,"b":5},{"t":1995.27,"r":0,"b":0},
{"t":1995.95,"r":0,"b":0},{"t":1996.00,"r":5,"b":10},{"t":1996.04,"r":35,"b":20},{"t":1996.08,"r":15,"b":25},{"t":1996.11,"r":45,"b":38},{"t":1996.14,"r":25,"b":15},{"t":1996.18,"r":12,"b":18},{"t":1996.23,"r":4,"b":8},{"t":1996.30,"r":0,"b":2},{"t":1996.38,"r":0,"b":0},
{"t":1996.97,"r":0,"b":0},{"t":1997.03,"r":3,"b":3},{"t":1997.08,"r":15,"b":10},{"t":1997.12,"r":26,"b":12},{"t":1997.16,"r":10,"b":10},{"t":1997.21,"r":5,"b":6},{"t":1997.28,"r":0,"b":1},{"t":1997.34,"r":0,"b":0},
{"t":1997.95,"r":0,"b":0},{"t":1998.02,"r":2,"b":4},{"t":1998.08,"r":5,"b":7},{"t":1998.13,"r":3,"b":5},{"t":1998.19,"r":0,"b":2},{"t":1998.26,"r":0,"b":0},
{"t":1998.97,"r":0,"b":0},{"t":1999.01,"r":10,"b":8},{"t":1999.04,"r":20,"b":18},{"t":1999.08,"r":8,"b":20},{"t":1999.12,"r":5,"b":20},{"t":1999.16,"r":5,"b":22},{"t":1999.20,"r":2,"b":27},{"t":1999.24,"r":0,"b":12},{"t":1999.30,"r":0,"b":4},{"t":1999.38,"r":0,"b":0},
{"t":1999.97,"r":0,"b":0},{"t":2000.02,"r":3,"b":5},{"t":2000.06,"r":18,"b":20},{"t":2000.10,"r":12,"b":18},{"t":2000.14,"r":8,"b":10},{"t":2000.19,"r":2,"b":4},{"t":2000.26,"r":0,"b":1},{"t":2000.34,"r":0,"b":0},
{"t":2000.95,"r":0,"b":0},{"t":2001.02,"r":5,"b":5},{"t":2001.06,"r":10,"b":12},{"t":2001.09,"r":18,"b":13},{"t":2001.13,"r":12,"b":15},{"t":2001.18,"r":5,"b":10},{"t":2001.24,"r":0,"b":3},{"t":2001.32,"r":0,"b":0},
{"t":2001.95,"r":0,"b":0},{"t":2002.05,"r":2,"b":3},{"t":2002.13,"r":3,"b":6},{"t":2002.20,"r":2,"b":3},{"t":2002.27,"r":0,"b":0},
{"t":2002.96,"r":0,"b":0},{"t":2003.02,"r":3,"b":4},{"t":2003.07,"r":25,"b":18},{"t":2003.11,"r":50,"b":35},{"t":2003.15,"r":20,"b":25},{"t":2003.19,"r":15,"b":15},{"t":2003.25,"r":2,"b":10},{"t":2003.32,"r":0,"b":3},{"t":2003.40,"r":0,"b":0},
{"t":2003.96,"r":0,"b":0},{"t":2004.03,"r":5,"b":4},{"t":2004.08,"r":20,"b":15},{"t":2004.11,"r":38,"b":25},{"t":2004.15,"r":15,"b":18},{"t":2004.20,"r":5,"b":8},{"t":2004.27,"r":0,"b":2},{"t":2004.34,"r":0,"b":0},
{"t":2004.97,"r":0,"b":0},{"t":2005.04,"r":5,"b":5},{"t":2005.08,"r":20,"b":15},{"t":2005.10,"r":38,"b":20},{"t":2005.14,"r":15,"b":15},{"t":2005.19,"r":5,"b":8},{"t":2005.25,"r":0,"b":2},{"t":2005.32,"r":0,"b":0},
{"t":2006.00,"r":0,"b":0},{"t":2006.08,"r":3,"b":4},{"t":2006.14,"r":5,"b":9},{"t":2006.19,"r":2,"b":5},{"t":2006.26,"r":0,"b":0},
{"t":2006.98,"r":0,"b":0},{"t":2007.04,"r":5,"b":3},{"t":2007.10,"r":15,"b":12},{"t":2007.15,"r":25,"b":18},{"t":2007.19,"r":12,"b":12},{"t":2007.24,"r":3,"b":6},{"t":2007.30,"r":0,"b":2},{"t":2007.37,"r":0,"b":0},
{"t":2007.92,"r":0,"b":0},{"t":2007.98,"r":3,"b":5},{"t":2008.04,"r":8,"b":8},{"t":2008.09,"r":12,"b":12},{"t":2008.15,"r":15,"b":22},{"t":2008.19,"r":20,"b":16},{"t":2008.23,"r":8,"b":8},{"t":2008.29,"r":0,"b":2},{"t":2008.36,"r":0,"b":0},
{"t":2008.97,"r":0,"b":0},{"t":2009.02,"r":15,"b":8},{"t":2009.06,"r":20,"b":15},{"t":2009.10,"r":27,"b":22},{"t":2009.14,"r":15,"b":18},{"t":2009.20,"r":10,"b":12},{"t":2009.26,"r":3,"b":8},{"t":2009.32,"r":0,"b":3},{"t":2009.40,"r":0,"b":0},
{"t":2009.98,"r":0,"b":0},{"t":2010.04,"r":4,"b":5},{"t":2010.09,"r":10,"b":12},{"t":2010.12,"r":15,"b":15},{"t":2010.17,"r":5,"b":6},{"t":2010.23,"r":0,"b":0},
{"t":2010.97,"r":0,"b":0},{"t":2011.02,"r":5,"b":5},{"t":2011.07,"r":18,"b":15},{"t":2011.09,"r":15,"b":20},{"t":2011.12,"r":30,"b":18},{"t":2011.16,"r":10,"b":12},{"t":2011.22,"r":5,"b":8},{"t":2011.28,"r":0,"b":3},{"t":2011.36,"r":0,"b":0},
{"t":2011.96,"r":0,"b":0},{"t":2012.02,"r":0,"b":3},{"t":2012.07,"r":2,"b":5},{"t":2012.12,"r":1,"b":4},{"t":2012.18,"r":0,"b":0},
{"t":2012.96,"r":0,"b":0},{"t":2013.04,"r":3,"b":4},{"t":2013.10,"r":10,"b":8},{"t":2013.14,"r":15,"b":8},{"t":2013.18,"r":5,"b":6},{"t":2013.25,"r":0,"b":2},{"t":2013.32,"r":0,"b":0},
{"t":2013.95,"r":0,"b":0},{"t":2014.01,"r":5,"b":4},{"t":2014.05,"r":35,"b":18},{"t":2014.09,"r":45,"b":28},{"t":2014.12,"r":30,"b":22},{"t":2014.15,"r":60,"b":20},{"t":2014.19,"r":20,"b":15},{"t":2014.23,"r":10,"b":8},{"t":2014.28,"r":0,"b":3},{"t":2014.35,"r":0,"b":0},
{"t":2014.97,"r":0,"b":0},{"t":2015.02,"r":5,"b":3},{"t":2015.07,"r":20,"b":10},{"t":2015.12,"r":80,"b":40},{"t":2015.16,"r":75,"b":68},{"t":2015.20,"r":40,"b":40},{"t":2015.24,"r":10,"b":20},{"t":2015.30,"r":0,"b":5},{"t":2015.37,"r":0,"b":0},
{"t":2015.98,"r":0,"b":0},{"t":2016.05,"r":5,"b":4},{"t":2016.09,"r":23,"b":7},{"t":2016.13,"r":10,"b":10},{"t":2016.18,"r":3,"b":4},{"t":2016.25,"r":0,"b":0},
{"t":2016.98,"r":0,"b":0},{"t":2017.05,"r":0,"b":5},{"t":2017.12,"r":0,"b":6},{"t":2017.20,"r":0,"b":7},{"t":2017.26,"r":0,"b":3},{"t":2017.32,"r":0,"b":0},
{"t":2017.96,"r":0,"b":0},{"t":2018.00,"r":0,"b":6}
]
},
"vconcat":[
{"width":972,"height":202,"data":{"name":"gls"},
 "layer":[
  {"mark":{"type":"line","strokeWidth":1.3},
   "encoding":{
    "x":{"field":"t","type":"quantitative","scale":{"domain":[1995,2018],"nice":false,"zero":false},"axis":{"orient":"bottom","title":null,"values":[1995,1996,1997,1998,1999,2000,2001,2002,2003,2004,2005,2006,2007,2008,2009,2010,2011,2012,2013,2014,2015,2016,2017,2018],"format":"d","labelExpr":"datum.value % 2 == 1 && datum.value < 2018 ? datum.label : ''","labelFlush":false,"labelOverlap":false,"labelPadding":7,"tickSize":{"condition":{"test":"datum.value % 2 == 1","value":9},"value":4},"grid":true,"gridOpacity":{"condition":{"test":"datum.value % 2 == 1 && datum.value > 1995","value":1},"value":0}}},
    "y":{"field":"r","type":"quantitative","scale":{"domain":[0,120],"nice":false},"axis":{"orient":"left","title":"%","titlePadding":11,"values":[0,10,20,30,40,50,60,70,80,90,100,110],"labelExpr":"datum.value % 20 == 0 ? datum.label : ''","labelOverlap":false,"labelPadding":4,"tickSize":{"condition":{"test":"datum.value % 20 == 0","value":10},"value":5},"grid":true,"gridOpacity":{"condition":{"test":"datum.value % 20 == 0 && datum.value > 0","value":1},"value":0}}},
    "color":{"datum":"glhcd","type":"nominal","scale":{"domain":["glhcd","fvcom"],"range":["#ff0000","#0000ff"]},"legend":{"title":null}}}},
  {"mark":{"type":"line","strokeWidth":1.3},
   "encoding":{
    "x":{"field":"t","type":"quantitative","axis":{"orient":"top","title":null,"labels":false,"grid":false,"values":[1995,1996,1997,1998,1999,2000,2001,2002,2003,2004,2005,2006,2007,2008,2009,2010,2011,2012,2013,2014,2015,2016,2017,2018],"tickSize":{"condition":{"test":"datum.value % 2 == 1","value":10},"value":4}}},
    "y":{"field":"b","type":"quantitative","axis":{"orient":"right","title":null,"labels":false,"grid":false,"values":[0,10,20,30,40,50,60,70,80,90,100,110,120],"tickSize":5}},
    "color":{"datum":"fvcom","type":"nominal"}}},
  {"data":{"values":[{"label":"gls \u2013\u200a\u2013 lake averaged surface ice cover"}]},
   "mark":{"type":"text","align":"left","baseline":"alphabetic","fontSize":20,"font":"Liberation Sans","color":"black"},
   "encoding":{"x":{"datum":1995.14,"type":"quantitative","axis":null},"y":{"datum":106,"type":"quantitative","axis":null},"text":{"field":"label"}}}
 ],
 "resolve":{"axis":{"x":"independent","y":"independent"}}
},
{"width":972,"height":202,"data":{"name":"glm"},
 "layer":[
  {"mark":{"type":"line","strokeWidth":1.3},
   "encoding":{
    "x":{"field":"t","type":"quantitative","scale":{"domain":[1995,2018],"nice":false,"zero":false},"axis":{"orient":"bottom","title":null,"values":[1995,1996,1997,1998,1999,2000,2001,2002,2003,2004,2005,2006,2007,2008,2009,2010,2011,2012,2013,2014,2015,2016,2017,2018],"format":"d","labelExpr":"datum.value % 2 == 1 && datum.value < 2018 ? datum.label : ''","labelFlush":false,"labelOverlap":false,"labelPadding":7,"tickSize":{"condition":{"test":"datum.value % 2 == 1","value":9},"value":4},"grid":true,"gridOpacity":{"condition":{"test":"datum.value % 2 == 1 && datum.value > 1995","value":1},"value":0}}},
    "y":{"field":"r","type":"quantitative","scale":{"domain":[0,120],"nice":false},"axis":{"orient":"left","title":"%","titlePadding":11,"values":[0,10,20,30,40,50,60,70,80,90,100,110],"labelExpr":"datum.value % 20 == 0 ? datum.label : ''","labelOverlap":false,"labelPadding":4,"tickSize":{"condition":{"test":"datum.value % 20 == 0","value":10},"value":5},"grid":true,"gridOpacity":{"condition":{"test":"datum.value % 20 == 0 && datum.value > 0","value":1},"value":0}}},
    "color":{"datum":"glhcd","type":"nominal","scale":{"domain":["glhcd","fvcom"],"range":["#ff0000","#0000ff"]},"legend":{"title":null}}}},
  {"mark":{"type":"line","strokeWidth":1.3},
   "encoding":{
    "x":{"field":"t","type":"quantitative","axis":{"orient":"top","title":null,"labels":false,"grid":false,"values":[1995,1996,1997,1998,1999,2000,2001,2002,2003,2004,2005,2006,2007,2008,2009,2010,2011,2012,2013,2014,2015,2016,2017,2018],"tickSize":{"condition":{"test":"datum.value % 2 == 1","value":10},"value":4}}},
    "y":{"field":"b","type":"quantitative","axis":{"orient":"right","title":null,"labels":false,"grid":false,"values":[0,10,20,30,40,50,60,70,80,90,100,110,120],"tickSize":5}},
    "color":{"datum":"fvcom","type":"nominal"}}},
  {"data":{"values":[{"label":"glm \u2013\u200a\u2013 lake averaged surface ice cover"}]},
   "mark":{"type":"text","align":"left","baseline":"alphabetic","fontSize":20,"font":"Liberation Sans","color":"black"},
   "encoding":{"x":{"datum":1995.14,"type":"quantitative","axis":null},"y":{"datum":106,"type":"quantitative","axis":null},"text":{"field":"label"}}}
 ],
 "resolve":{"axis":{"x":"independent","y":"independent"}}
},
{"width":972,"height":202,"data":{"name":"glh"},
 "layer":[
  {"mark":{"type":"line","strokeWidth":1.3},
   "encoding":{
    "x":{"field":"t","type":"quantitative","scale":{"domain":[1995,2018],"nice":false,"zero":false},"axis":{"orient":"bottom","title":null,"values":[1995,1996,1997,1998,1999,2000,2001,2002,2003,2004,2005,2006,2007,2008,2009,2010,2011,2012,2013,2014,2015,2016,2017,2018],"format":"d","labelExpr":"datum.value % 2 == 1 && datum.value < 2018 ? datum.label : ''","labelFlush":false,"labelOverlap":false,"labelPadding":7,"tickSize":{"condition":{"test":"datum.value % 2 == 1","value":9},"value":4},"grid":true,"gridOpacity":{"condition":{"test":"datum.value % 2 == 1 && datum.value > 1995","value":1},"value":0}}},
    "y":{"field":"r","type":"quantitative","scale":{"domain":[0,120],"nice":false},"axis":{"orient":"left","title":"%","titlePadding":11,"values":[0,10,20,30,40,50,60,70,80,90,100,110],"labelExpr":"datum.value % 20 == 0 ? datum.label : ''","labelOverlap":false,"labelPadding":4,"tickSize":{"condition":{"test":"datum.value % 20 == 0","value":10},"value":5},"grid":true,"gridOpacity":{"condition":{"test":"datum.value % 20 == 0 && datum.value > 0","value":1},"value":0}}},
    "color":{"datum":"glhcd","type":"nominal","scale":{"domain":["glhcd","fvcom"],"range":["#ff0000","#0000ff"]},"legend":{"title":null}}}},
  {"mark":{"type":"line","strokeWidth":1.3},
   "encoding":{
    "x":{"field":"t","type":"quantitative","axis":{"orient":"top","title":null,"labels":false,"grid":false,"values":[1995,1996,1997,1998,1999,2000,2001,2002,2003,2004,2005,2006,2007,2008,2009,2010,2011,2012,2013,2014,2015,2016,2017,2018],"tickSize":{"condition":{"test":"datum.value % 2 == 1","value":10},"value":4}}},
    "y":{"field":"b","type":"quantitative","axis":{"orient":"right","title":null,"labels":false,"grid":false,"values":[0,10,20,30,40,50,60,70,80,90,100,110,120],"tickSize":5}},
    "color":{"datum":"fvcom","type":"nominal"}}},
  {"data":{"values":[{"label":"glh \u2013\u200a\u2013 lake averaged surface ice cover"}]},
   "mark":{"type":"text","align":"left","baseline":"alphabetic","fontSize":20,"font":"Liberation Sans","color":"black"},
   "encoding":{"x":{"datum":1995.14,"type":"quantitative","axis":null},"y":{"datum":106,"type":"quantitative","axis":null},"text":{"field":"label"}}}
 ],
 "resolve":{"axis":{"x":"independent","y":"independent"}}
},
{"width":972,"height":202,"data":{"name":"gle"},
 "layer":[
  {"mark":{"type":"line","strokeWidth":1.3},
   "encoding":{
    "x":{"field":"t","type":"quantitative","scale":{"domain":[1995,2018],"nice":false,"zero":false},"axis":{"orient":"bottom","title":null,"values":[1995,1996,1997,1998,1999,2000,2001,2002,2003,2004,2005,2006,2007,2008,2009,2010,2011,2012,2013,2014,2015,2016,2017,2018],"format":"d","labelExpr":"datum.value % 2 == 1 && datum.value < 2018 ? datum.label : ''","labelFlush":false,"labelOverlap":false,"labelPadding":7,"tickSize":{"condition":{"test":"datum.value % 2 == 1","value":9},"value":4},"grid":true,"gridOpacity":{"condition":{"test":"datum.value % 2 == 1 && datum.value > 1995","value":1},"value":0}}},
    "y":{"field":"r","type":"quantitative","scale":{"domain":[0,120],"nice":false},"axis":{"orient":"left","title":"%","titlePadding":11,"values":[0,10,20,30,40,50,60,70,80,90,100,110],"labelExpr":"datum.value % 20 == 0 ? datum.label : ''","labelOverlap":false,"labelPadding":4,"tickSize":{"condition":{"test":"datum.value % 20 == 0","value":10},"value":5},"grid":true,"gridOpacity":{"condition":{"test":"datum.value % 20 == 0 && datum.value > 0","value":1},"value":0}}},
    "color":{"datum":"glhcd","type":"nominal","scale":{"domain":["glhcd","fvcom"],"range":["#ff0000","#0000ff"]},"legend":{"title":null}}}},
  {"mark":{"type":"line","strokeWidth":1.3},
   "encoding":{
    "x":{"field":"t","type":"quantitative","axis":{"orient":"top","title":null,"labels":false,"grid":false,"values":[1995,1996,1997,1998,1999,2000,2001,2002,2003,2004,2005,2006,2007,2008,2009,2010,2011,2012,2013,2014,2015,2016,2017,2018],"tickSize":{"condition":{"test":"datum.value % 2 == 1","value":10},"value":4}}},
    "y":{"field":"b","type":"quantitative","axis":{"orient":"right","title":null,"labels":false,"grid":false,"values":[0,10,20,30,40,50,60,70,80,90,100,110,120],"tickSize":5}},
    "color":{"datum":"fvcom","type":"nominal"}}},
  {"data":{"values":[{"label":"gle \u2013\u200a\u2013 lake averaged surface ice cover"}]},
   "mark":{"type":"text","align":"left","baseline":"alphabetic","fontSize":20,"font":"Liberation Sans","color":"black"},
   "encoding":{"x":{"datum":1995.14,"type":"quantitative","axis":null},"y":{"datum":106,"type":"quantitative","axis":null},"text":{"field":"label"}}}
 ],
 "resolve":{"axis":{"x":"independent","y":"independent"}}
},
{"width":972,"height":202,"data":{"name":"glo"},
 "layer":[
  {"mark":{"type":"line","strokeWidth":1.3},
   "encoding":{
    "x":{"field":"t","type":"quantitative","scale":{"domain":[1995,2018],"nice":false,"zero":false},"axis":{"orient":"bottom","title":null,"values":[1995,1996,1997,1998,1999,2000,2001,2002,2003,2004,2005,2006,2007,2008,2009,2010,2011,2012,2013,2014,2015,2016,2017,2018],"format":"d","labelExpr":"datum.value % 2 == 1 && datum.value < 2018 ? datum.label : ''","labelFlush":false,"labelOverlap":false,"labelPadding":7,"tickSize":{"condition":{"test":"datum.value % 2 == 1","value":9},"value":4},"grid":true,"gridOpacity":{"condition":{"test":"datum.value % 2 == 1 && datum.value > 1995","value":1},"value":0}}},
    "y":{"field":"r","type":"quantitative","scale":{"domain":[0,120],"nice":false},"axis":{"orient":"left","title":"%","titlePadding":11,"values":[0,10,20,30,40,50,60,70,80,90,100,110],"labelExpr":"datum.value % 20 == 0 ? datum.label : ''","labelOverlap":false,"labelPadding":4,"tickSize":{"condition":{"test":"datum.value % 20 == 0","value":10},"value":5},"grid":true,"gridOpacity":{"condition":{"test":"datum.value % 20 == 0 && datum.value > 0","value":1},"value":0}}},
    "color":{"datum":"glhcd","type":"nominal","scale":{"domain":["glhcd","fvcom"],"range":["#ff0000","#0000ff"]},"legend":{"title":null}}}},
  {"mark":{"type":"line","strokeWidth":1.3},
   "encoding":{
    "x":{"field":"t","type":"quantitative","axis":{"orient":"top","title":null,"labels":false,"grid":false,"values":[1995,1996,1997,1998,1999,2000,2001,2002,2003,2004,2005,2006,2007,2008,2009,2010,2011,2012,2013,2014,2015,2016,2017,2018],"tickSize":{"condition":{"test":"datum.value % 2 == 1","value":10},"value":4}}},
    "y":{"field":"b","type":"quantitative","axis":{"orient":"right","title":null,"labels":false,"grid":false,"values":[0,10,20,30,40,50,60,70,80,90,100,110,120],"tickSize":5}},
    "color":{"datum":"fvcom","type":"nominal"}}},
  {"data":{"values":[{"label":"glo \u2013\u200a\u2013 lake averaged surface ice cover"}]},
   "mark":{"type":"text","align":"left","baseline":"alphabetic","fontSize":20,"font":"Liberation Sans","color":"black"},
   "encoding":{"x":{"datum":1995.14,"type":"quantitative","axis":null},"y":{"datum":106,"type":"quantitative","axis":null},"text":{"field":"label"}}}
 ],
 "resolve":{"axis":{"x":"independent","y":"independent"}}
}
]
}
